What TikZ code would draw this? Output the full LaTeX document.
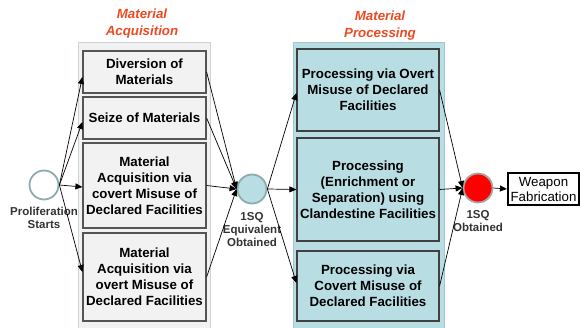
\documentclass[tikz,border=0pt]{standalone}
\usepackage{fontspec}
\setmainfont{Liberation Sans}
\usetikzlibrary{arrows.meta}
\definecolor{titlered}{RGB}{236,74,34}
\definecolor{greyfill}{RGB}{242,242,242}
\definecolor{greyframe}{RGB}{200,212,214}
\definecolor{boxedge}{RGB}{85,85,85}
\definecolor{bluefill}{RGB}{184,222,227}
\definecolor{blueframe}{RGB}{160,200,206}
\definecolor{circedge}{RGB}{140,172,174}
\tikzset{
  stagebox/.style={draw=boxedge, line width=1.2pt, inner sep=0pt, align=center,
    font=\fontsize{13.3}{16}\selectfont\bfseries},
  greybox/.style={stagebox, fill=greyfill},
  bluebox/.style={stagebox, fill=bluefill, draw=black!75},
  ttl/.style={text=titlered, align=center, font=\fontsize{13.3}{17}\selectfont\bfseries\itshape},
  lbl/.style={align=center, text=black!80, font=\fontsize{11.5}{13}\selectfont\bfseries},
  evt/.style={circle, minimum size=29pt, inner sep=0pt, line width=1.8pt},
  arr/.style={-{Triangle[length=7pt,width=6pt]}, line width=0.7pt},
}
\begin{document}
\begin{tikzpicture}[x=1pt,y=-1pt]
\useasboundingbox (0,0) rectangle (580,328);
% containers
\fill[greyfill, draw=greyframe, line width=1pt] (78,43) rectangle (210,332);
\fill[bluefill, draw=blueframe, line width=1pt] (293,43) rectangle (444,332);
% titles
\node[ttl] (t1) at (142,24) {Material\\Acquisition};
\node[ttl] (t2) at (380,26) {Material\\Processing};
% acquisition boxes
\node[greybox, minimum width=123pt, minimum height=42pt] (b1) at (144.5,72) {Diversion of\\Materials};
\node[greybox, minimum width=123pt, minimum height=42pt] (b2) at (144.5,118) {Seize of Materials};
\node[greybox, minimum width=123pt, minimum height=85pt] (b3) at (144.5,185.5) {Material\\Acquisition via\\covert Misuse of\\Declared Facilities};
\node[greybox, minimum width=123pt, minimum height=88pt] (b4) at (144.5,277) {Material\\Acquisition via\\overt Misuse of\\Declared Facilities};
% processing boxes
\node[bluebox, minimum width=142pt, minimum height=82pt] (p1) at (368,90) {Processing via Overt\\Misuse of Declared\\Facilities};
\node[bluebox, minimum width=142pt, minimum height=103pt] (p2) at (368,189.5) {Processing\\(Enrichment or\\Separation) using\\Clandestine Facilities};
\node[bluebox, minimum width=142pt, minimum height=70pt] (p3) at (368,286) {Processing via\\Covert Misuse of\\Declared Facilities};
% events
\node[evt, draw=circedge, fill=white] (s) at (44,185) {};
\node[evt, draw=circedge, fill=bluefill] (m) at (252,189) {};
\node[evt, draw=black!35, fill=red] (r) at (478,188) {};
\node[lbl] (sl) at (44,218) {Proliferation\\Starts};
\node[lbl] (ml) at (252,230) {1SQ\\Equivalent\\Obtained};
\node[lbl] (rl) at (478,221) {1SQ\\Obtained};
% weapon fabrication
\node[draw=black, line width=2.2pt, fill=white, inner sep=0pt, align=center,
  minimum width=71pt, minimum height=32pt, font=\fontsize{13.3}{15}\selectfont] (w) at (543.5,189) {Weapon\\Fabrication};
% connectors
\draw[arr] (s.east) -- ([yshift=-5pt]b1.west);
\draw[arr] (s.east) -- ([yshift=-4pt]b2.west);
\draw[arr] (s.east) -- ([yshift=-1.5pt]b3.west);
\draw[arr] (s.east) -- ([yshift=5pt]b4.west);
\draw[arr] (b1.east) -- (m.west);
\draw[arr] (b2.east) -- (m.west);
\draw[arr] (b3.east) -- (m.west);
\draw[arr] (b4.east) -- (m.west);
\draw[arr] (m.east) -- ([yshift=-3pt]p1.west);
\draw[arr] (m.east) -- (p2.west);
\draw[arr] (m.east) -- ([yshift=3pt]p3.west);
\draw[arr] (p1.east) -- (r.west);
\draw[arr] (p2.east) -- (r.west);
\draw[arr] (p3.east) -- (r.west);
\draw[arr] (r.east) -- (w.west);
\end{tikzpicture}
\end{document}
